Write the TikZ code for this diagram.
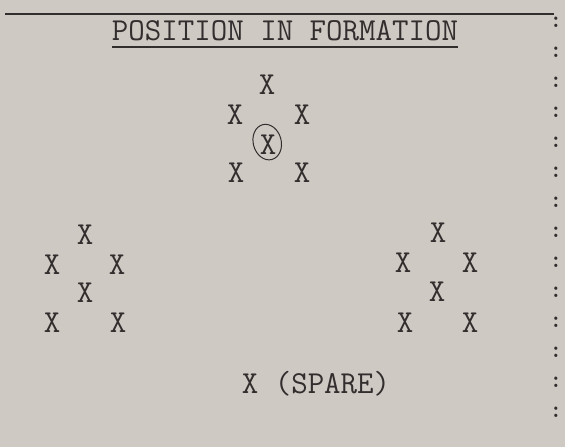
\documentclass[tikz,border=0pt]{standalone}
\usepackage{xcolor}
\usepackage{tikz}
\usetikzlibrary{positioning}
\definecolor{paper}{RGB}{207,201,195}
\definecolor{ink}{RGB}{50,46,46}

\begin{document}
\begin{tikzpicture}[
    x=1pt, y=-1pt,
    every node/.style={text=ink, inner sep=0pt, font=\ttfamily\fontsize{32}{32}\selectfont},
    man/.style={},
    colon/.style={font=\ttfamily\bfseries\fontsize{24}{24}\selectfont},
    rule/.style={draw=ink, line width=2pt}
]
    \fill[paper] (0,0) rectangle (565,447);
    \useasboundingbox (0,0) rectangle (565,447);

    % heading
    \draw[rule] (5,14) -- (554,14);
    \node[anchor=base] (title) at (285,40) {POSITION IN FORMATION};
    \draw[rule, line width=1.6pt] ([yshift=-7pt]title.base west) -- ([yshift=-7pt]title.base east);

    % top group
    \node[man] (ta)  at (267,85)  {X};
    \node[man] (tl)  at (235,115) {X};
    \node[man] (tr)  at (302,115) {X};
    \node[man] (tc)  at (268,145) {X};
    \node[man] (tbl) at (236,173) {X};
    \node[man] (tbr) at (302,173) {X};
    \draw[ink, line width=1pt, rotate around={15:(tc.center)}] ([yshift=3pt]tc.center) ellipse [x radius=14pt, y radius=18pt];

    % left group
    \node[man] (la)  at (85,235)  {X};
    \node[man] (ll)  at (52,265)  {X};
    \node[man] (lr)  at (117,265) {X};
    \node[man] (lc)  at (85,293)  {X};
    \node[man] (lbl) at (52,323)  {X};
    \node[man] (lbr) at (118,323) {X};

    % right group
    \node[man] (ra)  at (438,233) {X};
    \node[man] (rl)  at (403,263) {X};
    \node[man] (rr)  at (470,263) {X};
    \node[man] (rc)  at (437,292) {X};
    \node[man] (rbl) at (405,323) {X};
    \node[man] (rbr) at (470,323) {X};

    \node[anchor=base] (spare) at (316,393) {X (SPARE)};

    % margin colons
    \foreach \k in {0,...,13}
        \node[colon] (dots\k) at (556,{22+30*\k}) {:};
\end{tikzpicture}
\end{document}
